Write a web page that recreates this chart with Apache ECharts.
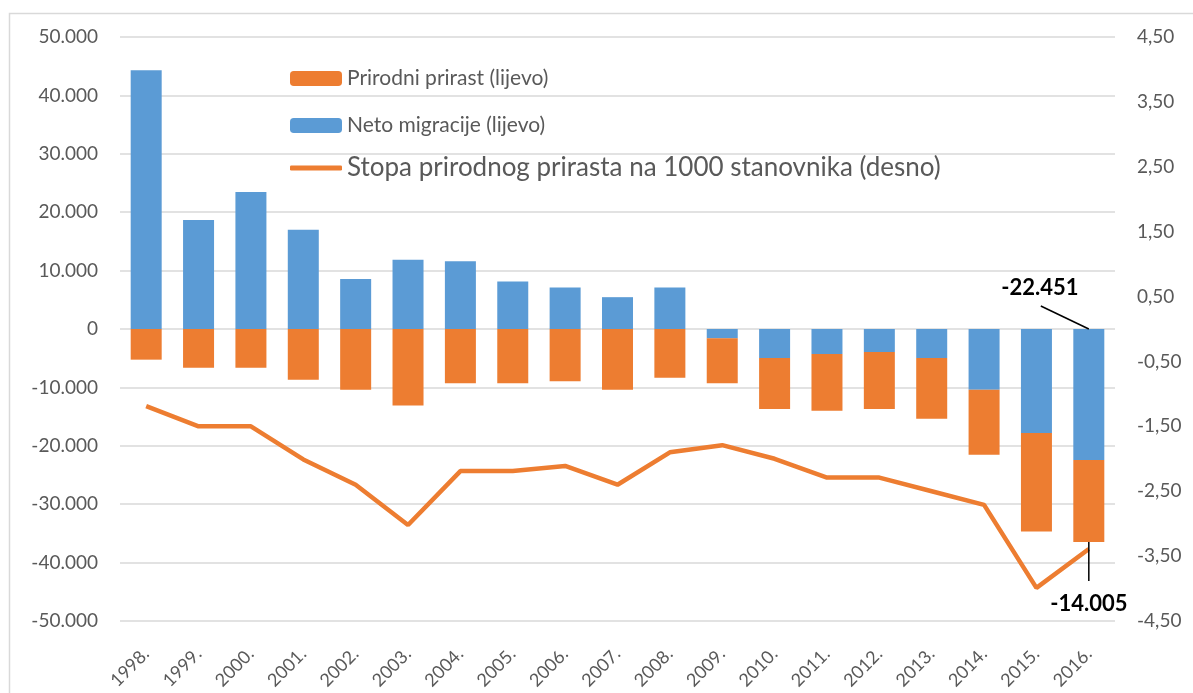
<!DOCTYPE html>
<html>
<head>
<meta charset="utf-8">
<script src="https://cdn.jsdelivr.net/npm/echarts@6/dist/echarts.min.js"></script>
<style>
  html, body { margin: 0; padding: 0; background: #fff; }
  #chart { width: 1193px; height: 693px; }
</style>
</head>
<body>
<div id="chart"></div>
<script>
// godine
const years = ['1998.', '1999.', '2000.', '2001.', '2002.', '2003.', '2004.', '2005.', '2006.', '2007.',
  '2008.', '2009.', '2010.', '2011.', '2012.', '2013.', '2014.', '2015.', '2016.'];
// neto migracije (lijevo)
const netMigration = [44300, 18650, 23450, 17000, 8550, 11850, 11600, 8150, 7100, 5450,
  7100, -1600, -4980, -4280, -3950, -4970, -10390, -17810, -22451];
// prirodni prirast (lijevo)
const naturalChange = [-5250, -6650, -6650, -8700, -10400, -13100, -9300, -9300, -8950, -10400,
  -8350, -7700, -8730, -9720, -9760, -10400, -11130, -16850, -14005];
// stopa prirodnog prirasta na 1000 stanovnika (desno)
const naturalRate = [-1.19, -1.50, -1.50, -2.01, -2.40, -3.02, -2.19, -2.19, -2.11, -2.40,
  -1.90, -1.79, -2.00, -2.29, -2.29, -2.50, -2.71, -3.99, -3.39];

const nameNat = 'Prirodni prirast (lijevo)';
const nameMig = 'Neto migracije (lijevo)';
const nameRate = 'Stopa prirodnog prirasta na 1000 stanovnika (desno)';

const FONT = 'Lato';
const GREY = '#595959';
const BLUE = '#5B9BD5';
const ORANGE = '#ED7D31';

// tisuće s točkom
function fmtThousands(v) {
  const s = Math.abs(v).toString().replace(/\B(?=(\d{3})+(?!\d))/g, '.');
  return (v < 0 ? '-' : '') + s;
}

// oznake za zadnju godinu: [x, y vrha/dna stupca, vrijednost]
const lastIdx = years.length - 1;
const calloutData = [
  [lastIdx, 0, netMigration[lastIdx]],
  [lastIdx, netMigration[lastIdx] + naturalChange[lastIdx], naturalChange[lastIdx]]
];

// crta oznaku s linijom od kraja stupca
function renderCallout(params, api) {
  const pt = api.coord([api.value(0), api.value(1)]);
  const text = fmtThousands(api.value(2));
  const up = params.dataIndex === 0;
  const end = up ? [pt[0] - 48, pt[1] - 23] : [pt[0], pt[1] + 39];
  const txt = up ? [pt[0] - 49, pt[1] - 41] : [pt[0], pt[1] + 62];
  return {
    type: 'group',
    children: [{
      type: 'line',
      shape: {x1: pt[0], y1: pt[1], x2: end[0], y2: end[1]},
      style: {stroke: '#000', lineWidth: 1.5}
    }, {
      type: 'text',
      x: txt[0],
      y: txt[1],
      style: {
        text: text,
        align: 'center',
        verticalAlign: 'middle',
        font: 'bold 22px ' + FONT,
        fill: '#000'
      }
    }]
  };
}

const chart = echarts.init(document.getElementById('chart'));

const legendBase = {
  orient: 'vertical',
  left: 285,
  itemWidth: 52,
  itemHeight: 15,
  itemGap: 0,
  selectedMode: false,
  textStyle: {fontFamily: FONT, fontSize: 21, color: GREY}
};

chart.setOption({
  animation: false,
  backgroundColor: '#fff',
  graphic: [{
    type: 'rect',
    shape: {x: 9.5, y: 13.5, width: 1300, height: 800},
    style: {fill: 'none', stroke: '#D9D9D9', lineWidth: 1.5},
    silent: true
  }],
  grid: {left: 120, right: 78, top: 37, bottom: 72},
  legend: [
    Object.assign({}, legendBase, {top: 63, data: [nameNat]}),
    Object.assign({}, legendBase, {top: 110, data: [nameMig]}),
    Object.assign({}, legendBase, {
      top: 150,
      itemHeight: 5,
      data: [{name: nameRate, icon: 'roundRect'}],
      textStyle: {fontFamily: FONT, fontSize: 26, color: GREY}
    })
  ],
  xAxis: {
    type: 'category',
    data: years,
    axisLine: {show: false, onZero: false},
    axisTick: {show: false},
    axisLabel: {
      rotate: 45,
      margin: 30,
      interval: 0,
      fontFamily: FONT,
      fontSize: 18,
      color: GREY
    }
  },
  yAxis: [{
    type: 'value',
    min: -50000,
    max: 50000,
    interval: 10000,
    axisLine: {show: false},
    axisTick: {show: false},
    splitLine: {lineStyle: {color: '#D9D9D9', width: 1.5}},
    axisLabel: {
      margin: 22,
      fontFamily: FONT,
      fontSize: 19,
      color: GREY,
      formatter: fmtThousands
    }
  }, {
    type: 'value',
    min: -4.5,
    max: 4.5,
    interval: 1,
    axisLine: {show: false},
    axisTick: {show: false},
    splitLine: {show: false},
    axisLabel: {
      margin: 22,
      fontFamily: FONT,
      fontSize: 19,
      color: GREY,
      formatter: v => v.toFixed(2).replace('.', ',')
    }
  }],
  series: [{
    name: nameMig,
    type: 'bar',
    stack: 'pop',
    barWidth: 31,
    itemStyle: {color: BLUE},
    data: netMigration
  }, {
    name: nameNat,
    type: 'bar',
    stack: 'pop',
    barWidth: 31,
    itemStyle: {color: ORANGE},
    data: naturalChange
  }, {
    name: nameRate,
    type: 'line',
    yAxisIndex: 1,
    symbol: 'none',
    lineStyle: {color: ORANGE, width: 4.5},
    itemStyle: {color: ORANGE},
    data: naturalRate
  }, {
    name: 'oznake',
    type: 'custom',
    silent: true,
    z: 10,
    renderItem: renderCallout,
    data: calloutData
  }]
});
</script>
</body>
</html>
